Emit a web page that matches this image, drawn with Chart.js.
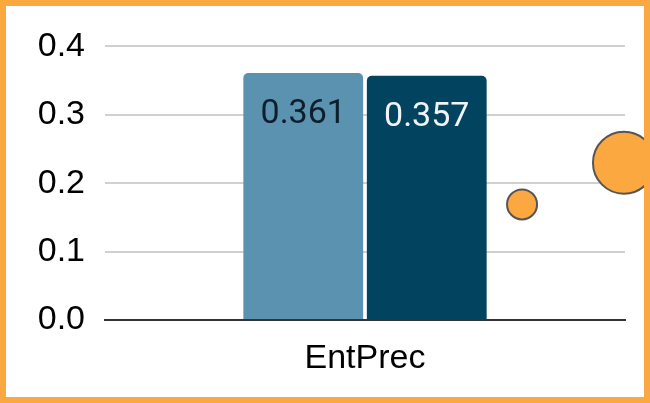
<!DOCTYPE html>
<html>
<head>
<meta charset="utf-8">
<script src="https://cdn.jsdelivr.net/npm/chart.js@4/dist/chart.umd.min.js"></script>
<style>
  body { margin: 0; background: #fff; }
  .frame {
    width: 650px; height: 403px;
    box-sizing: border-box;
    border: 6px solid #fba840;
    background: #fff;
  }
  canvas { display: block; }
</style>
</head>
<body>
<div class="frame">
  <canvas id="chart" width="638" height="391"></canvas>
</div>
<script>
const categories = ['EntPrec'];
const seriesA = [0.361];
const seriesB = [0.357];
const yTicks = [0.0, 0.1, 0.2, 0.3, 0.4];

// orange bubbles on the right (x in category units)
const bubbleX = [0.302, 0.498];
const bubbleY = [0.169, 0.230];
const bubbleR = [15, 31];

const barLabels = {
  id: 'barLabels',
  afterDatasetsDraw(chart) {
    const ctx = chart.ctx;
    chart.data.datasets.forEach((ds, i) => {
      if (ds.type === 'bubble') return;
      const meta = chart.getDatasetMeta(i);
      meta.data.forEach((bar, j) => {
        ctx.save();
        ctx.font = '34px Roboto';
        ctx.fillStyle = ds.labelColor;
        ctx.textAlign = 'center';
        ctx.textBaseline = 'alphabetic';
        ctx.fillText(ds.data[j].y.toFixed(3), bar.x, bar.y + 50);
        ctx.restore();
      });
    });
  }
};

const toPoints = vals => vals.map((v, i) => ({ x: i, y: v }));
const bubbles = bubbleX.map((x, i) => ({ x: x, y: bubbleY[i], r: bubbleR[i] }));

new Chart(document.getElementById('chart'), {
  type: 'bar',
  data: {
    datasets: [
      {
        data: toPoints(seriesA),
        backgroundColor: '#5b92af',
        labelColor: '#0d1f2d',
        borderRadius: 5,
        borderSkipped: 'start',
        categoryPercentage: 0.475,
        barPercentage: 0.97
      },
      {
        data: toPoints(seriesB),
        backgroundColor: '#02445f',
        labelColor: '#f0f4f7',
        borderRadius: 5,
        borderSkipped: 'start',
        categoryPercentage: 0.475,
        barPercentage: 0.97
      },
      {
        type: 'bubble',
        data: bubbles,
        backgroundColor: '#fba840',
        borderColor: '#555555',
        borderWidth: 2,
        clip: false
      }
    ]
  },
  options: {
    responsive: false,
    animation: false,
    layout: { autoPadding: false, padding: { left: 0, right: 19, top: 39, bottom: 0 } },
    plugins: {
      legend: { display: false },
      tooltip: { enabled: false }
    },
    scales: {
      x: {
        type: 'linear',
        min: -0.5,
        max: 0.5,
        offset: false,
        afterBuildTicks(scale) { scale.ticks = categories.map((c, i) => ({ value: i })); },
        grid: { display: false, drawTicks: false },
        border: { display: true, color: '#333333', width: 2 },
        ticks: {
          color: '#000',
          padding: 18,
          font: { family: '"Liberation Sans", Arial', size: 34 },
          callback: v => categories[Math.round(v)]
        },
        afterFit(scale) { scale.height = 77; }
      },
      y: {
        min: 0,
        max: 0.4,
        afterBuildTicks(scale) { scale.ticks = yTicks.map(v => ({ value: v })); },
        grid: { color: '#d0d0d0', lineWidth: 2, drawTicks: false },
        border: { display: false },
        ticks: {
          color: '#000',
          padding: 20,
          font: { family: '"Liberation Sans", Arial', size: 34 },
          callback: v => Number(v).toFixed(1)
        },
        afterFit(scale) { scale.width = 99; }
      }
    }
  },
  plugins: [barLabels]
});
</script>
</body>
</html>
